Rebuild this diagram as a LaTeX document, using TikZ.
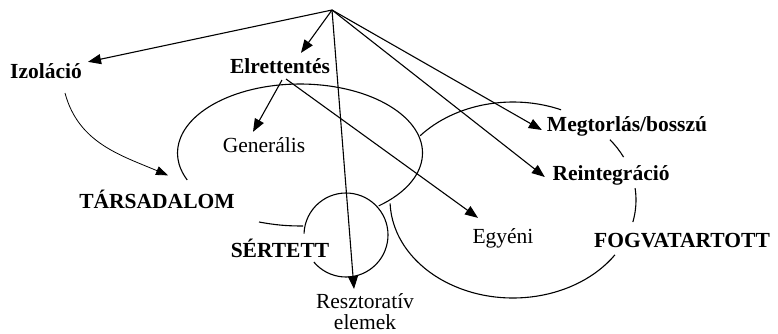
\documentclass[tikz,border=0pt]{standalone}
\usepackage{fontspec}
\setmainfont{Liberation Serif}
\usetikzlibrary{arrows.meta}
\begin{document}
\begin{tikzpicture}[x=1pt,y=1pt,
  lbl/.style={inner sep=0pt, anchor=base, font=\fontsize{21.5}{21}\selectfont},
  blbl/.style={inner sep=0pt, anchor=base, font=\fontsize{21.5}{21}\selectfont\bfseries},
  arr/.style={line width=1.1pt, -{Triangle[length=13pt,width=10pt]}},
  thinarr/.style={line width=0.8pt, -{Triangle[length=12pt,width=9pt]}},
  curve/.style={line width=1.1pt}]
\useasboundingbox (0,0) rectangle (778,-333);
\coordinate (apex) at (332,-10);
% labels
\node[blbl] (izol) at (46,-78) {Izoláció};
\node[blbl] (elr) at (280,-73) {Elrettentés};
\node[lbl] (gen) at (264,-152) {Generális};
\node[blbl] (tars) at (157,-208) {TÁRSADALOM};
\node[blbl] (sert) at (280,-257) {SÉRTETT};
\node[lbl, anchor=north, align=center] (resz) at (365,-293) {Resztoratív\\elemek};
\node[lbl] (egy) at (503,-243) {Egyéni};
\node[blbl] (fog) at (682,-247) {FOGVATARTOTT};
\node[blbl] (megt) at (627,-131) {Megtorlás/bosszú};
\node[blbl] (reint) at (611,-180) {Reintegráció};
% big ellipse (TÁRSADALOM)
\draw[curve] (300,-153) ++(-50:122.5pt and 69pt)
  arc[start angle=-50,end angle=203,x radius=122.5pt,y radius=69pt];
% FOGVATARTOTT ellipse, in pieces
\draw[curve] (513,-200) ++(139:123pt and 98pt)
  arc[start angle=139,end angle=67,x radius=123pt,y radius=98pt];
\draw[curve] (513,-200) ++(38:123pt and 98pt)
  arc[start angle=38,end angle=26,x radius=123pt,y radius=98pt];
\draw[curve] (513,-200) ++(7:123pt and 98pt)
  arc[start angle=7,end angle=-13,x radius=123pt,y radius=98pt];
\draw[curve] (513,-200) ++(-34:123pt and 98pt)
  arc[start angle=-34,end angle=-178,x radius=123pt,y radius=98pt];
% SÉRTETT circle
\draw[curve] (346,-235) ++(220:42pt) arc[start angle=220,end angle=538,radius=42pt];
\coordinate (tailend) at (303,-226);
\draw[curve] (259,-222) to[bend right=5] (tailend);
% arrows from apex
\draw[arr] (apex) -- ([shift={(6,1)}]izol.north east);
\draw[arr] (apex) -- ([shift={(21,5)}]elr.north);
\draw[arr] (apex) -- ([shift={(-11,4)}]resz.north);
\draw[arr] (apex) -- ([shift={(-5,1)}]megt.base west);
\draw[arr] (apex) -- ([shift={(-7.5,3)}]reint.base west);
% arrows from Elrettentés
\draw[arr] ([shift={(2,-7)}]elr.base) -- ([shift={(-11,5)}]gen.north);
\draw[arr] ([shift={(6,-6)}]elr.base) -- ([shift={(-25,10)}]egy.north);
% Izoláció to TÁRSADALOM
\draw[thinarr] ([shift={(19,-15)}]izol.base) to[out=-75,in=157] ([shift={(11,14)}]tars.north);
\end{tikzpicture}
\end{document}
